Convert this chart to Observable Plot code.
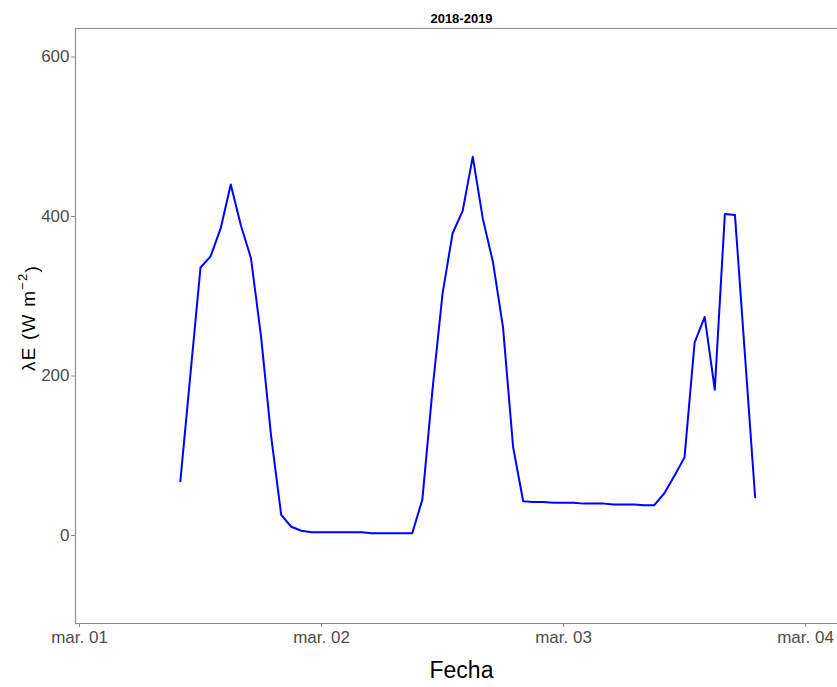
<!DOCTYPE html>
<html>
<head>
<meta charset="utf-8">
<script src="https://cdn.jsdelivr.net/npm/d3@7"></script>
<script src="https://cdn.jsdelivr.net/npm/@observablehq/plot@0.6"></script>
<style>
  body { margin: 0; background: #fff; }
  svg { font-family: "Liberation Sans", Arial, sans-serif; }
</style>
</head>
<body>
<div id="chart"></div>
<script>
// hours since 2019-03-01 00:00
const hours = [10,11,12,13,14,15,16,17,18,19,20,21,22,23,24,25,26,27,28,29,30,31,32,33,34,35,36,37,38,39,40,41,42,43,44,45,46,47,48,49,50,51,52,53,54,55,56,57,58,59,60,61,62,63,64,65,66,67];
const lambdaE = [68,202,336,350,385,440,389,348,250,125,26,11,6,4,4,4,4,4,4,3,3,3,3,3,45,182,303,379,407,475,397,343,261,111,43,42,42,41,41,41,40,40,40,39,39,39,38,38,53,75,98,242,274,183,403,402,225,48];
const tickDates = ["2019-03-01","2019-03-02","2019-03-03","2019-03-04"];
const tickLabels = ["mar. 01","mar. 02","mar. 03","mar. 04"];
const yTicks = [0,200,400,600];
const title = "2018-2019";
const xTitle = "Fecha";
const yTitleMain = "λE (W m";
const yTitleSup = "−2";
const yTitleEnd = ")";

const base = Date.UTC(2019,2,1);
const data = hours.map((h,i) => ({t: new Date(base + h*3600e3), v: lambdaE[i]}));
const ticks = tickDates.map(d => new Date(d + "T00:00:00Z"));
const fmt = d => tickLabels[ticks.findIndex(t => +t === +d)];

const grey = "#8c8c8c";
const yTitle = yTitleMain + yTitleSup + yTitleEnd;
const chart = Plot.plot({
  width: 837,
  height: 687,
  marginLeft: 75,
  marginRight: 0,
  marginTop: 28,
  marginBottom: 64,
  style: {fontFamily: '"Liberation Sans", Arial, sans-serif', background: "#fff"},
  x: {type: "utc", domain: [new Date(base - 0.397*3600e3), new Date(base + 75.17*3600e3)]},
  y: {domain: [-110.3, 635.7]},
  marks: [
    Plot.ruleY([635.7], {stroke: grey, strokeWidth: 1.2}),
    Plot.ruleY([-110.3], {stroke: grey, strokeWidth: 1.2}),
    Plot.ruleX([new Date(base - 0.397*3600e3)], {stroke: grey, strokeWidth: 1.2}),
    Plot.axisX(ticks, {tickFormat: fmt, tickSize: 4, tickPadding: 3, stroke: grey, fill: "#4d4d4d", fontSize: 17, label: null}),
    Plot.axisY(yTicks, {tickSize: 4, tickPadding: 2, stroke: grey, fill: "#4d4d4d", fontSize: 17, label: null}),
    Plot.line(data, {x: "t", y: "v", stroke: "#0000ff", strokeWidth: 2}),
    Plot.text([title], {frameAnchor: "top", dx: 5, dy: -15, fontWeight: "bold", fontSize: 13, fill: "#000"}),
    Plot.text([xTitle], {frameAnchor: "bottom", dx: 5, dy: 54, fontSize: 23, fill: "#000"}),
    Plot.text([yTitle], {frameAnchor: "left", textAnchor: "middle", dx: -47, dy: -8, rotate: -90, fontSize: 19, fill: "#000", className: "ytitle"})
  ]
});
document.getElementById("chart").appendChild(chart);
// superscript for the y title
d3.select(chart).selectAll(".ytitle text").each(function() {
  const t = d3.select(this);
  t.text(null).attr("letter-spacing", "1.2px");
  t.append("tspan").text(yTitleMain);
  t.append("tspan").attr("dy", "-0.55em").attr("font-size", "13px").text(yTitleSup);
  t.append("tspan").attr("dy", "0.55em").text(yTitleEnd);
});
</script>
</body>
</html>
